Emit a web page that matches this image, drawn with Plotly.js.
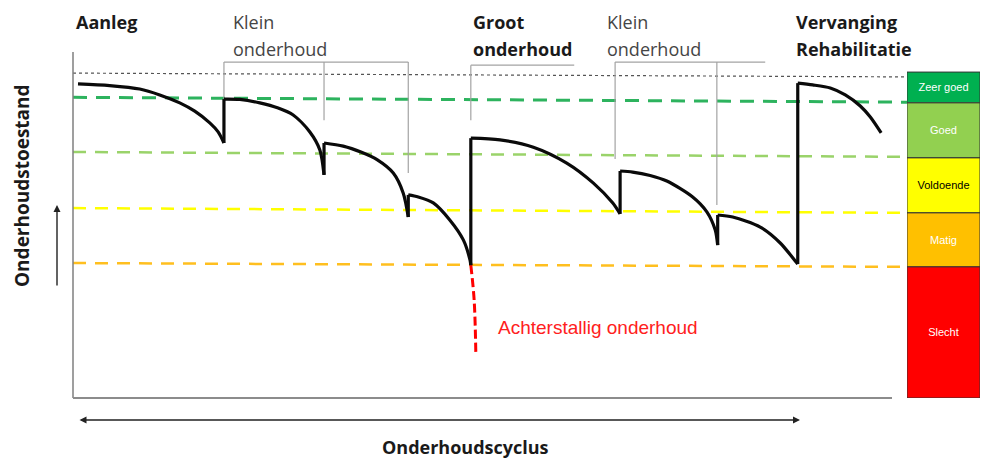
<!DOCTYPE html>
<html><head><meta charset="utf-8">
<script src="https://cdn.plot.ly/plotly-3.0.1.min.js"></script>
<style>html,body{margin:0;padding:0;background:#fff}#chart{width:983px;height:459px}</style>
</head><body><div id="chart"></div>
<script>
// ---- data (time 0-100 along the cycle, condition 0-100) ----
const decayTime = [
  [0.6, 4.4, 8.0, 10.4, 12.8, 14.6, 16.4, 17.4, 18.1],
  [18.1, 20.0, 22.4, 24.6, 26.4, 28.4, 29.6, 30.1],
  [30.1, 32.4, 34.6, 36.5, 38.4, 39.6, 40.2],
  [40.2, 41.4, 43.2, 45.2, 46.8, 47.6, 47.7],
  [47.7, 51.2, 55.2, 59.2, 62.4, 64.7, 65.6],
  [65.6, 67.1, 69.2, 71.2, 74.3, 76.0, 77.0, 77.3],
  [77.3, 79.1, 82.4, 84.8, 86.8, 86.9],
  [86.9, 88.7, 90.8, 92.6, 94.4, 95.6, 96.9]
];
const decayCond = [
  [90.8, 90.3, 89.3, 87.6, 85.3, 82.9, 79.5, 76.9, 73.7],
  [86.4, 86.3, 85.3, 83.8, 81.8, 76.9, 71.7, 64.5],
  [73.7, 72.8, 71.0, 68.8, 65.0, 59.2, 52.3],
  [58.7, 58.1, 56.4, 51.4, 45.7, 39.9, 38.4],
  [75.1, 74.6, 72.5, 67.9, 62.1, 56.4, 53.2],
  [65.6, 65.3, 64.3, 62.7, 58.1, 53.8, 48.6, 44.2],
  [52.9, 52.3, 49.4, 44.8, 39.0, 38.7],
  [91.0, 90.5, 89.6, 87.6, 84.4, 81.2, 76.6]
];
const backlogTime = [47.7, 48.1, 48.3];
const backlogCond = [38.4, 28.3, 13.0];

const levelNames = ['Zeer goed', 'Goed', 'Voldoende', 'Matig', 'Slecht'];
const levelLower = [85.3, 69.4, 53.5, 37.9, 0];
const levelUpper = [94.2, 85.3, 69.4, 53.5, 37.9];
const levelColors = ['#00b050', '#92d050', '#ffff00', '#ffc000', '#ff0000'];
const levelTextColors = ['#ffffff', '#ffffff', '#000000', '#ffffff', '#ffffff'];

const thresholdStart = [93.9, 86.9, 71.1, 54.9, 39.0];
const thresholdEnd = [92.8, 85.5, 69.7, 53.5, 37.9];
const thresholdColors = ['#555555', '#2db35e', '#9ad36a', '#ffff00', '#ffbf1f'];
const thresholdDash = ['3px,3px', '14px,9px', '13px,9px', '13px,9px', '13px,9px'];
const thresholdWidth = [1.2, 3, 2.5, 2.5, 2.5];

const bracketTop = [97.1, 96.2, 97.1];
const bracketStart = [18.1, 47.7, 65.0];
const bracketEnd = [40.2, 60.1, 83.0];
const bracketLegs = [[18.1, 30.1, 40.2], [47.7], [65.0, 77.2]];
const bracketLegEnd = [[86.4, 80.3, 65.0], [80.3], [69.1, 55.8]];

const labelLines = [['Aanleg'], ['Klein', 'onderhoud'], ['Groot', 'onderhoud'], ['Klein', 'onderhoud'], ['Vervanging', 'Rehabilitatie']];
const labelTime = [0.1, 19.0, 47.7, 63.8, 86.5];
const labelBold = [true, false, true, false, true];

const xTitle = 'Onderhoudscyclus';
const yTitle = 'Onderhoudstoestand';
const backlogLabel = 'Achterstallig onderhoud';

// ---- traces ----
const traces = [];
for (let i = 0; i < thresholdStart.length; i++) {
  traces.push({type: 'scatter', mode: 'lines', x: [0, 100], y: [thresholdStart[i], thresholdEnd[i]],
    line: {color: thresholdColors[i], width: thresholdWidth[i], dash: thresholdDash[i]}, hoverinfo: 'skip'});
}
for (let b = 0; b < bracketTop.length; b++) {
  const bx = [bracketStart[b], bracketEnd[b], null];
  const by = [bracketTop[b], bracketTop[b], null];
  bracketLegs[b].forEach((t, k) => { bx.push(t, t, null); by.push(bracketTop[b], bracketLegEnd[b][k], null); });
  traces.push({type: 'scatter', mode: 'lines', x: bx, y: by, line: {color: '#a3a3a3', width: 1.2}, hoverinfo: 'skip'});
}
traces.push({type: 'scatter', mode: 'lines', x: backlogTime, y: backlogCond,
  line: {color: '#ff0000', width: 3, dash: '9px,4px', shape: 'spline'}, hoverinfo: 'skip'});
for (let s = 0; s < decayTime.length; s++) {
  traces.push({type: 'scatter', mode: 'lines', x: decayTime[s], y: decayCond[s],
    line: {color: '#0a0a0a', width: 3.2, shape: 'spline', smoothing: 0.8}, hoverinfo: 'skip'});
}
const jx = [], jy = [];
for (let s = 0; s < decayTime.length - 1; s++) {
  const t = decayTime[s + 1][0];
  jx.push(t, t, null);
  jy.push(decayCond[s][decayCond[s].length - 1], decayCond[s + 1][0], null);
}
traces.push({type: 'scatter', mode: 'lines', x: jx, y: jy, line: {color: '#0a0a0a', width: 3.2}, hoverinfo: 'skip'});
traces.push({type: 'bar', xaxis: 'x2', yaxis: 'y', x: levelNames.map(() => 0),
  base: levelLower, y: levelUpper.map((u, i) => u - levelLower[i]), width: 1,
  marker: {color: levelColors, line: {color: '#333333', width: 1}},
  text: levelNames, textposition: 'inside', insidetextanchor: 'middle', textangle: 0,
  textfont: {family: 'Liberation Sans, Arial, sans-serif', size: 11, color: levelTextColors},
  hoverinfo: 'skip'});

// ---- annotations ----
const ann = [];
const line1Y = (398 - 22) / 346, line2Y = (398 - 49) / 346;
labelLines.forEach((lines, i) => {
  lines.forEach((txt, k) => {
    ann.push({xref: 'x', yref: 'paper', x: labelTime[i], y: k === 0 ? line1Y : line2Y,
      xanchor: 'left', yanchor: 'middle', showarrow: false, text: labelBold[i] ? '<b>' + txt + '</b>' : txt,
      font: {family: 'Open Sans, sans-serif', size: 18, color: labelBold[i] ? '#1a1a1a' : '#454545'}});
  });
});
ann.push({xref: 'paper', yref: 'paper', x: (465 - 73) / 907, y: (398 - 447) / 346, xanchor: 'center', yanchor: 'middle',
  showarrow: false, text: '<b>' + xTitle + '</b>', font: {family: 'Open Sans, sans-serif', size: 18, color: '#1a1a1a'}});
ann.push({xref: 'paper', yref: 'paper', x: (22 - 73) / 907, y: (398 - 186) / 346, xanchor: 'center', yanchor: 'middle',
  textangle: -90, showarrow: false, text: '<b>' + yTitle + '</b>', font: {family: 'Open Sans, sans-serif', size: 19, color: '#1a1a1a'}});
ann.push({xref: 'x', yref: 'y', x: 50.7, y: 20.5, xanchor: 'left', yanchor: 'middle', showarrow: false,
  text: backlogLabel, font: {family: 'Liberation Sans, Arial, sans-serif', size: 19, color: '#ff2020'}});
ann.push({xref: 'paper', yref: 'paper', x: (57 - 73) / 907, y: (398 - 205) / 346, ax: 0, ay: 82, text: '',
  showarrow: true, arrowhead: 2, arrowsize: 1, arrowwidth: 1.4, arrowcolor: '#222'});
ann.push({xref: 'paper', yref: 'paper', x: (800 - 73) / 907, y: (398 - 420) / 346, ax: -722, ay: 0, text: '',
  showarrow: true, arrowhead: 2, startarrowhead: 2, arrowside: 'end+start', arrowsize: 1, arrowwidth: 1.4, arrowcolor: '#222'});

const layout = {
  width: 983, height: 459,
  margin: {l: 73, r: 3, t: 52, b: 61, pad: 0},
  paper_bgcolor: '#ffffff', plot_bgcolor: '#ffffff',
  showlegend: false, barmode: 'overlay',
  xaxis: {domain: [0, 834 / 907], range: [0, 100], visible: false, fixedrange: true},
  xaxis2: {domain: [834 / 907, 1], range: [-0.5, 0.5], visible: false, anchor: 'y', fixedrange: true},
  yaxis: {range: [0, 100], visible: false, fixedrange: true},
  shapes: [
    {type: 'line', xref: 'paper', yref: 'paper', x0: 0, x1: 0, y0: 0, y1: 1, line: {color: '#7f7f7f', width: 1.5}},
    {type: 'line', xref: 'paper', yref: 'paper', x0: 0, x1: (892 - 73) / 907, y0: 0, y1: 0, line: {color: '#8c8c8c', width: 2}}
  ],
  annotations: ann
};
Plotly.newPlot('chart', traces, layout, {staticPlot: true, displayModeBar: false});
</script></body></html>
